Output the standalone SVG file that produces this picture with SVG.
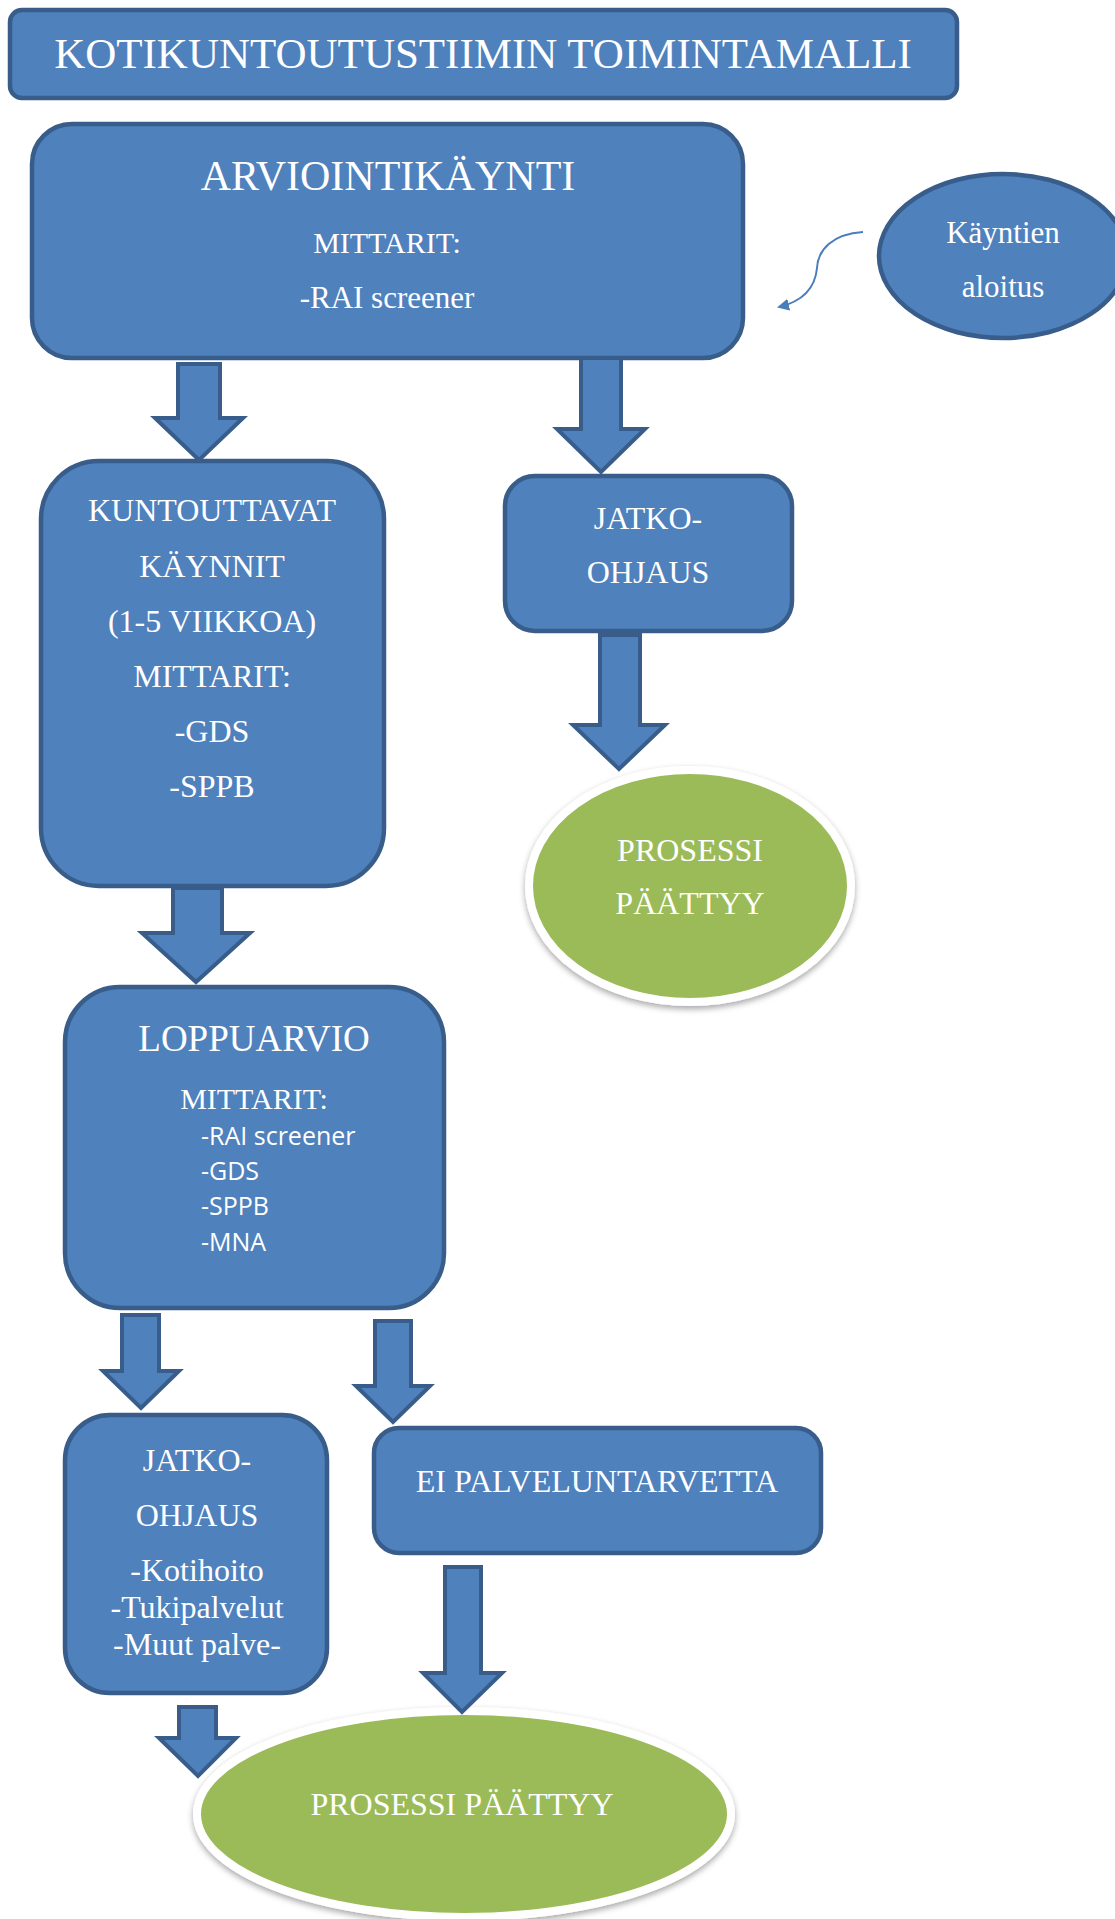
<svg xmlns="http://www.w3.org/2000/svg" width="1115" height="1919" viewBox="0 0 1115 1919">
<defs>
<style>
.box{fill:#4f81bd;stroke:#385d8a;stroke-width:4.5}
.arr{fill:#4f81bd;stroke:#385d8a;stroke-width:4;stroke-linejoin:miter}
.end{fill:#9bbb59;stroke:#ffffff;stroke-width:8}
.t{font-family:"Liberation Serif","Times New Roman",serif;fill:#ffffff;text-anchor:middle}
.s{font-family:"Open Sans","Liberation Sans",sans-serif;fill:#ffffff;font-size:25px}
</style>
<filter id="sh" x="-10%" y="-10%" width="120%" height="125%">
<feDropShadow dx="0" dy="3" stdDeviation="3" flood-color="#000000" flood-opacity="0.35"/>
</filter>
<marker id="ah" markerWidth="12" markerHeight="12" refX="10" refY="6" orient="auto" markerUnits="userSpaceOnUse">
<path d="M0,0 L12,6 L0,12 Z" fill="#4a7ebb"/>
</marker>
</defs>
<rect width="1115" height="1919" fill="#ffffff"/>

<g id="title">
<rect class="box" x="10" y="10" width="947" height="88" rx="12"/>
<text class="t" x="483" y="68" font-size="43">KOTIKUNTOUTUSTIIMIN TOIMINTAMALLI</text>
</g>

<g id="arviointikaynti">
<rect class="box" x="32" y="124" width="711" height="234" rx="40"/>
<text class="t" x="388" y="190" font-size="42">ARVIOINTIKÄYNTI</text>
<text class="t" x="387" y="253" font-size="30">MITTARIT:</text>
<text class="t" x="387" y="308" font-size="31">-RAI screener</text>
</g>

<g id="kayntien-aloitus">
<ellipse class="box" cx="1003" cy="256" rx="124" ry="82"/>
<text class="t" x="1003" y="243" font-size="31">Käyntien</text>
<text class="t" x="1003" y="297" font-size="31">aloitus</text>
</g>

<g id="kuntouttavat">
<rect class="box" x="41" y="461" width="343" height="425" rx="58"/>
<text class="t" x="212" y="521" font-size="32">KUNTOUTTAVAT</text>
<text class="t" x="212" y="577" font-size="32">KÄYNNIT</text>
<text class="t" x="212" y="632" font-size="32">(1-5 VIIKKOA)</text>
<text class="t" x="212" y="687" font-size="32">MITTARIT:</text>
<text class="t" x="212" y="742" font-size="32">-GDS</text>
<text class="t" x="212" y="797" font-size="32">-SPPB</text>
</g>

<g id="jatko-ohjaus-1">
<rect class="box" x="505" y="476" width="287" height="155" rx="30"/>
<text class="t" x="648" y="529" font-size="32">JATKO-</text>
<text class="t" x="648" y="583" font-size="32">OHJAUS</text>
</g>

<g id="prosessi-1">
<ellipse class="end" cx="690" cy="886" rx="161" ry="116" filter="url(#sh)"/>
<text class="t" x="690" y="861" font-size="32">PROSESSI</text>
<text class="t" x="690" y="914" font-size="32">PÄÄTTYY</text>
</g>

<g id="loppuarvio">
<rect class="box" x="65" y="987" width="379" height="321" rx="55"/>
<text class="t" x="254" y="1051" font-size="37">LOPPUARVIO</text>
<text class="t" x="254" y="1109" font-size="30">MITTARIT:</text>
<text class="s" x="201" y="1145">-RAI screener</text>
<text class="s" x="201" y="1180">-GDS</text>
<text class="s" x="201" y="1215">-SPPB</text>
<text class="s" x="201" y="1251">-MNA</text>
</g>

<g id="jatko-ohjaus-2">
<rect class="box" x="65" y="1415" width="262" height="278" rx="45"/>
<text class="t" x="197" y="1471" font-size="32">JATKO-</text>
<text class="t" x="197" y="1526" font-size="32">OHJAUS</text>
<text class="t" x="197" y="1581" font-size="32">-Kotihoito</text>
<text class="t" x="197" y="1618" font-size="32">-Tukipalvelut</text>
<text class="t" x="197" y="1655" font-size="32">-Muut palve-</text>
</g>

<g id="ei-palveluntarvetta">
<rect class="box" x="374" y="1428" width="447" height="125" rx="25"/>
<text class="t" x="597" y="1492" font-size="32">EI PALVELUNTARVETTA</text>
</g>

<g id="prosessi-2">
<ellipse class="end" cx="464" cy="1814" rx="267" ry="103" filter="url(#sh)"/>
<text class="t" x="462" y="1815" font-size="32">PROSESSI PÄÄTTYY</text>
</g>

<g id="connectors">
<path d="M863,232 C832,234 818,250 817,268 C815,290 800,302 779,307" fill="none" stroke="#4a7ebb" stroke-width="2" marker-end="url(#ah)"/>
<path class="arr" d="M178,364 H220 V418 H243 L199,460 L155,418 H178 Z"/>
<path class="arr" d="M581,358 H621 V429 H645 L601,472 L557,429 H581 Z"/>
<path class="arr" d="M600,635 H640 V725 H665 L619,769 L573,725 H600 Z"/>
<path class="arr" d="M173,888 H222 V933 H250 L196,982 L142,933 H173 Z"/>
<path class="arr" d="M122,1315 H159 V1371 H179 L141,1408 L103,1371 H122 Z"/>
<path class="arr" d="M375,1321 H411 V1386 H430 L393,1422 L356,1386 H375 Z"/>
<path class="arr" d="M445,1567 H481 V1673 H502 L462,1712 L423,1673 H445 Z"/>
<path class="arr" d="M179,1707 H216 V1738 H236 L198,1776 L159,1738 H179 Z"/>
</g>
</svg>
